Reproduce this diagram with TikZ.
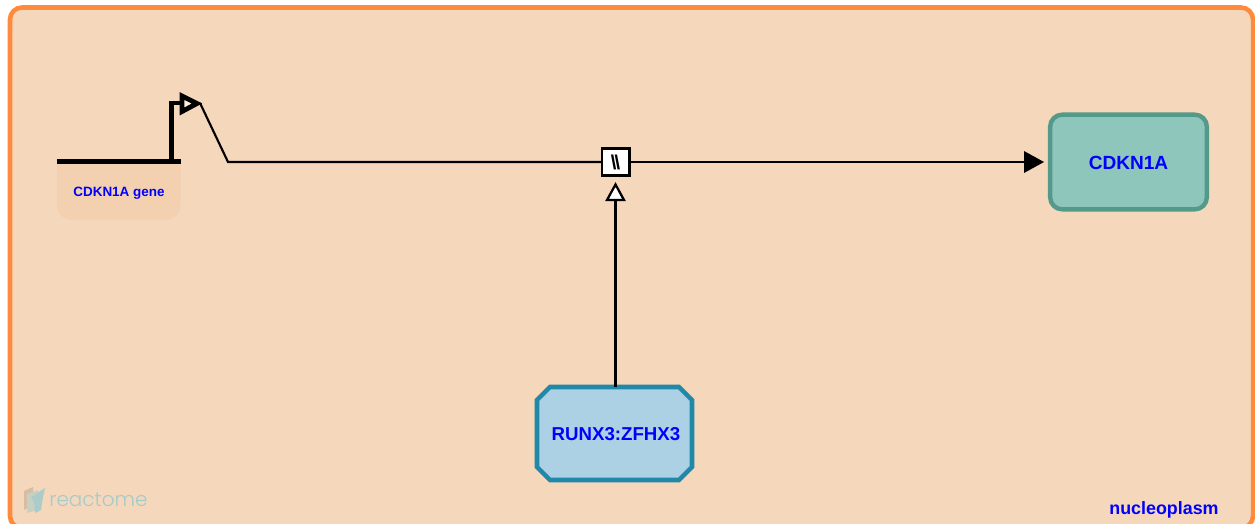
\documentclass[tikz,border=0pt]{standalone}
\usepackage{fontspec}
\setmainfont{Liberation Sans}
\newfontfamily\logofont{Poppins Light}
\usetikzlibrary{arrows.meta}
\definecolor{compfill}{HTML}{F5D7BB}
\definecolor{compline}{HTML}{FF8A3C}
\definecolor{genefill}{HTML}{F3D0B0}
\definecolor{protfill}{HTML}{8FC6BB}
\definecolor{protline}{HTML}{549A8A}
\definecolor{cplxfill}{HTML}{ADD1E4}
\definecolor{cplxline}{HTML}{2088A8}
\definecolor{logotext}{HTML}{A4CBCB}
\tikzset{
  x=0.75pt,y=-0.75pt,
  label/.style={font=\bfseries\fontsize{#1}{#1}\selectfont,text=blue,inner sep=0pt},
  protein/.style={draw=protline,fill=protfill,line width=3.3pt,rounded corners=9pt,minimum width=117.5pt,minimum height=71pt,inner sep=0pt,outer sep=0pt},
  cplxshape/.style={draw=cplxline,fill=cplxfill,line width=3.4pt,line join=miter},
  proc/.style={draw=black,fill=white,line width=2pt,minimum size=20.5pt,inner sep=0pt,outer sep=0pt},
  conn/.style={draw=black,line width=1.6pt},
  inhead/.style={conn,line width=1.7pt,fill=white,line join=miter},
  genebar/.style={draw=black,line width=3.3pt},
}
\begin{document}
\begin{tikzpicture}
\useasboundingbox (0,0) rectangle (1255,524);
\fill[white] (0,0) rectangle (1255,524);
\begin{scope}
\clip (0,0) rectangle (1255,524);
\draw[compline,fill=compfill,line width=3.4pt,rounded corners=9pt] (10,7.5) rectangle (1253,528);
\end{scope}
% gene
\fill[genefill] (57,162) -- (57,205) .. controls (57,213.3) and (63.7,220) .. (72,220) -- (165.5,220) .. controls (173.8,220) and (180.5,213.3) .. (180.5,205) -- (180.5,162) -- cycle;
\node[label=10.1] (genelab) at (119,193) {CDKN1A gene};
\coordinate (geneL) at (57,161.5);
\coordinate (geneR) at (180.5,161.5);
\coordinate (geneS) at (171.5,161.5);
\coordinate (geneT) at (171.5,103);
\coordinate (geneH) at (181,103);
\draw[genebar] (geneL) -- (geneR);
\draw[genebar] (geneS) -- (geneT) -- (geneH);
\coordinate (tipA) at (182,96);
\coordinate (tipB) at (182,111.5);
\coordinate (tipC) at (197,103.5);
\draw[genebar,line width=3.6pt,fill=compfill!40!white,line join=miter] (tipA) -- (tipC) -- (tipB) -- cycle;
% nodes
\node[protein] (prod) at (1128.5,162) {};
\node[label=14.3] at (1128.5,163) {CDKN1A};
\draw[cplxshape] (550,387) -- (679,387) -- (692,400) -- (692,467) -- (679,480) -- (550,480) -- (537,467) -- (537,400) -- cycle;
\node[minimum width=116pt,minimum height=70pt,outer sep=0pt,inner sep=0pt] (cat) at (614.5,433.5) {};
\node[label=14] at (616,434.5) {RUNX3:ZFHX3};
\node[proc] (pr) at (615.5,162) {};
\node[font=\bfseries\fontsize{15}{15}\selectfont,inner sep=0pt] at (pr) {\textbackslash\kern-1.5pt\textbackslash};
\node[label=13.4] (comp) at (1164,509.5) {nucleoplasm};
% connectors
\coordinate (bend) at (228,162);
\coordinate (head) at (1024,162);
\coordinate (tip) at (1044,162);
\coordinate (catHead) at (615.5,200);
\draw[conn,line join=miter] (200,103) -- (bend) -- (pr.west);
\draw[conn] (pr.east) -- (head);
\fill[black] (1024,151) -- (tip) -- (1024,173) -- cycle;
\draw[conn] (catHead |- cat.north) -- (catHead);
\draw[inhead] (615.5,184.5) -- (624,200) -- (607,200) -- cycle;
% logo
\fill[black!12!compfill] (24,491) -- (33,487) -- (33,505) -- (24,510) -- cycle;
\fill[logotext!55!compfill] (27,494) -- (38,490) -- (38,510) -- (27,513) -- cycle;
\fill[logotext!90!compfill] (31,497) -- (45,488) -- (43,497) -- (41,510) -- (35,513) -- (34,502) -- cycle;
\node[font=\logofont\fontsize{15}{15}\selectfont,text=logotext,inner sep=0pt,anchor=west] (logo) at (49,499.5) {reactome};
\end{tikzpicture}
\end{document}
